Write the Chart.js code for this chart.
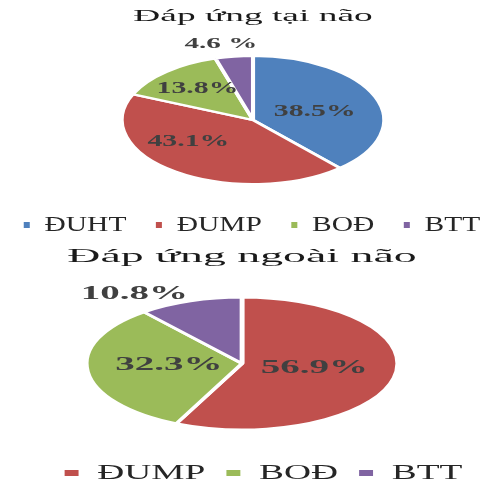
<!DOCTYPE html>
<html>
<head>
<meta charset="utf-8">
<script src="https://cdn.jsdelivr.net/npm/chart.js@4.4.1/dist/chart.umd.min.js"></script>
<style>
    body { margin: 0; background: #fff; overflow: hidden; width: 492px; height: 482px; }
    canvas { position: absolute; left: 0; }
    #chartTaiNao { top: 0; }
    #chartNgoaiNao { top: 240px; }
</style>
</head>
<body>
<canvas id="chartTaiNao" width="492" height="246"></canvas>
<canvas id="chartNgoaiNao" width="492" height="254"></canvas>
<script>
// Biểu đồ 1: Đáp ứng tại não
const nhan1 = ['ĐUHT', 'ĐUMP', 'BOĐ', 'BTT'];
const giaTri1 = [38.5, 43.1, 13.8, 4.6];
const chuSo1 = ['38.5%', '43.1%', '13.8%', '4.6 %'];

// Biểu đồ 2: Đáp ứng ngoài não
const nhan2 = ['ĐUMP', 'BOĐ', 'BTT'];
const giaTri2 = [56.9, 32.3, 10.8];
const chuSo2 = ['56.9%', '32.3%', '10.8%'];

const mau = { 'ĐUHT': '#4F81BD', 'ĐUMP': '#C0504D', 'BOĐ': '#9BBB59', 'BTT': '#8064A2' };

Chart.defaults.font.family = '"Liberation Serif"';

// Ảnh gốc bị kéo giãn theo chiều ngang -> kéo giãn tiêu đề, chú thích, hình tròn
const keoGian = {
    id: 'keoGian',
    beforeDraw(chart, args, opts) {
        const ctx = chart.ctx;
        [['titleBlock', opts.title, 0], ['legend', opts.legend, opts.legendShift]].forEach(([key, k, dich]) => {
            const box = chart[key];
            if (!box || box._daKeo) return;
            const veGoc = box.draw.bind(box);
            box.draw = function (area) {
                const cx = (box.left + box.right) / 2;
                ctx.save();
                ctx.translate(cx + dich, 0);
                ctx.scale(k, 1);
                ctx.translate(-cx, 0);
                veGoc(area);
                ctx.restore();
            };
            box._daKeo = true;
        });
    },
    beforeDatasetsDraw(chart, args, opts) {
        const arc = chart.getDatasetMeta(0).data[0];
        const ctx = chart.ctx;
        ctx.save();
        ctx.translate(arc.x, 0);
        ctx.scale(opts.pie, 1);
        ctx.translate(-arc.x, 0);
    },
    afterDatasetsDraw(chart, args, opts) {
        const ctx = chart.ctx;
        ctx.restore();
        // Nhãn phần trăm
        ctx.fillStyle = '#404040';
        ctx.textAlign = 'center';
        ctx.textBaseline = 'middle';
        chart.getDatasetMeta(0).data.forEach((arc, i) => {
            const n = opts.nhan[i];
            const goc = (arc.startAngle + arc.endAngle) / 2 + n.lech * Math.PI / 180;
            const r = arc.outerRadius * n.r;
            const x = arc.x + Math.cos(goc) * r * opts.pie;
            const y = arc.y + Math.sin(goc) * r;
            ctx.save();
            ctx.font = 'bold ' + n.size + 'px "Liberation Serif"';
            ctx.translate(x, y);
            ctx.scale(n.k, 1);
            ctx.fillText(opts.text[i], 0, 0);
            ctx.restore();
        });
    }
};

function chuThich(chart) {
    const items = Chart.overrides.pie.plugins.legend.labels.generateLabels(chart);
    items.forEach(item => { item.lineWidth = 0; });
    return items;
}

function taoBieuDo(id, tieuDe, nhan, giaTri, chuSo, cauHinh) {
    return new Chart(document.getElementById(id), {
        type: 'pie',
        data: {
            labels: nhan,
            datasets: [{
                data: giaTri,
                backgroundColor: nhan.map(t => mau[t]),
                borderColor: '#ffffff',
                borderWidth: 2,
                radius: cauHinh.radius
            }]
        },
        plugins: [keoGian],
        options: {
            responsive: false,
            animation: false,
            events: [],
            layout: { padding: cauHinh.padding },
            plugins: {
                title: {
                    display: true,
                    text: tieuDe,
                    color: '#1a1a1a',
                    font: { size: cauHinh.titleSize, weight: 'normal' },
                    padding: cauHinh.titlePadding
                },
                legend: {
                    display: true,
                    position: 'bottom',
                    labels: {
                        color: '#262626',
                        font: { size: 22 },
                        boxWidth: cauHinh.boxWidth,
                        boxHeight: 6,
                        padding: cauHinh.legendPadding,
                        generateLabels: chuThich
                    }
                },
                tooltip: { enabled: false },
                keoGian: {
                    title: cauHinh.titleK,
                    legend: cauHinh.legendK,
                    legendShift: cauHinh.legendShift,
                    pie: cauHinh.pieK,
                    text: chuSo,
                    nhan: cauHinh.nhan
                }
            }
        }
    });
}

taoBieuDo('chartTaiNao', 'Đáp ứng tại não', nhan1, giaTri1, chuSo1, {
    radius: 64,
    padding: { left: 14, right: 0, top: 0, bottom: 0 },
    titleSize: 17,
    titlePadding: { top: 6, bottom: 21.6 },
    titleK: 2.2,
    boxWidth: 4.5,
    legendPadding: 22,
    legendK: 1.34,
    legendShift: -1,
    pieK: 2.05,
    nhan: [
        { r: 0.49, lech: 4.6, size: 17, k: 1.75 },
        { r: 0.6, lech: 19, size: 17, k: 1.75 },
        { r: 0.65, lech: 0.8, size: 17, k: 1.75 },
        { r: 1.2, lech: -3.5, size: 14, k: 2.08 }
    ]
});

taoBieuDo('chartNgoaiNao', 'Đáp ứng ngoài não', nhan2, giaTri2, chuSo2, {
    radius: 66,
    padding: { left: 0, right: 8, top: 0, bottom: 0 },
    titleSize: 19.5,
    titlePadding: { top: 4.7, bottom: 9.3 },
    titleK: 2.35,
    boxWidth: 8.2,
    legendPadding: 12.4,
    legendK: 1.7,
    legendShift: 21.5,
    pieK: 2.36,
    nhan: [
        { r: 0.47, lech: -4, size: 19.5, k: 2.0 },
        { r: 0.47, lech: 3.4, size: 19.5, k: 2.0 },
        { r: 1.26, lech: -13.8, size: 19.5, k: 2.0 }
    ]
});
</script>
</body>
</html>
